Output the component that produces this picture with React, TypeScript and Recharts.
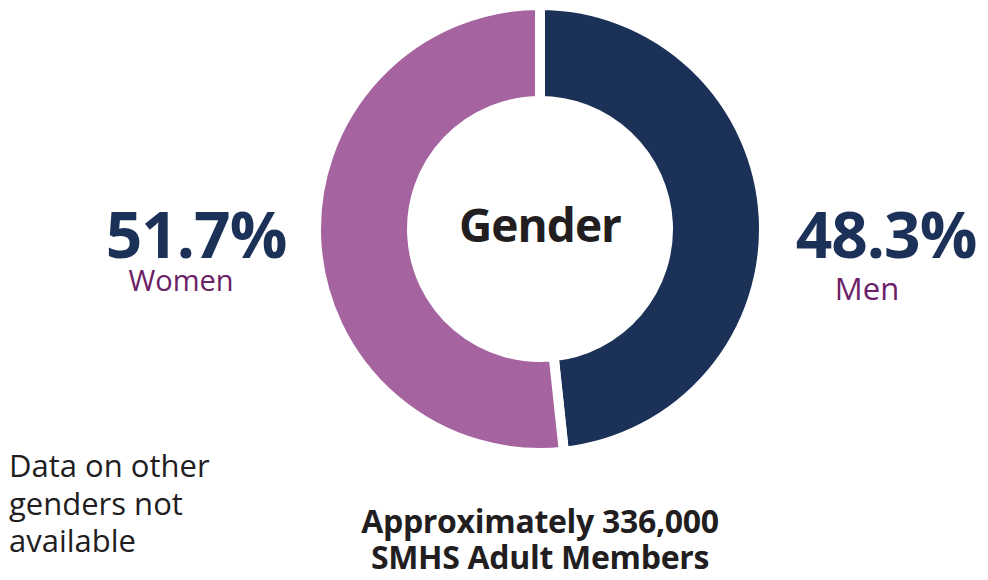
import { PieChart, Pie, Cell } from "recharts"

const genders = ["Men", "Women"]
const shares = [48.3, 51.7]
const sliceColors = ["#1b3158", "#a5639f"]
const shareLabels = ["48.3%", "51.7%"]
const title = "Gender"
const footnoteLines = ["Data on other", "genders not", "available"]
const totalLines = ["Approximately 336,000", "SMHS Adult Members"]

const data = genders.map((name, i) => ({ name, value: shares[i] }))

const font = "'Open Sans', 'Noto Sans', sans-serif"
const navy = "#1b3158"
const plum = "#6b2167"
const ink = "#221e1f"

export default function App() {
    return <div style={{ position: "absolute", left: 0, top: 0, background: "#fff" }}>
        <PieChart width={988} height={580} margin={{ top: 0, right: 0, bottom: 0, left: 0 }}>
            <Pie
                data={data}
                dataKey="value"
                nameKey="name"
                cx={540}
                cy={229}
                outerRadius={224}
                innerRadius={128}
                startAngle={90}
                endAngle={-270}
                stroke="#fff"
                strokeWidth={10}
                isAnimationActive={false}
            >
                {data.map((d, i) => <Cell key={d.name} fill={sliceColors[i]} />)}
            </Pie>
            <text x={540} y={242} textAnchor="middle" fontFamily={font} fontWeight={700} fontSize={46} letterSpacing={-1} fill={ink}>{title}</text>

            <text x={196} y={258} textAnchor="middle" fontFamily={font} fontWeight={700} fontSize={64} letterSpacing={-1} fill={navy}>{shareLabels[1]}</text>
            <text x={181} y={291} textAnchor="middle" fontFamily={font} fontSize={29} fill={plum}>{genders[1]}</text>

            <text x={886} y={258} textAnchor="middle" fontFamily={font} fontWeight={700} fontSize={64} letterSpacing={-1} fill={navy}>{shareLabels[0]}</text>
            <text x={867} y={300} textAnchor="middle" fontFamily={font} fontSize={31} fill={plum}>{genders[0]}</text>

            {footnoteLines.map((line, i) =>
                <text key={line} x={9} y={477 + i * 37.5} fontFamily={font} fontSize={31} fill={ink}>{line}</text>
            )}
            {totalLines.map((line, i) =>
                <text key={line} x={540} y={533 + i * 36} textAnchor="middle" fontFamily={font} fontWeight={700} fontSize={32} letterSpacing={-0.3} fill={ink}>{line}</text>
            )}
        </PieChart>
    </div>
}
